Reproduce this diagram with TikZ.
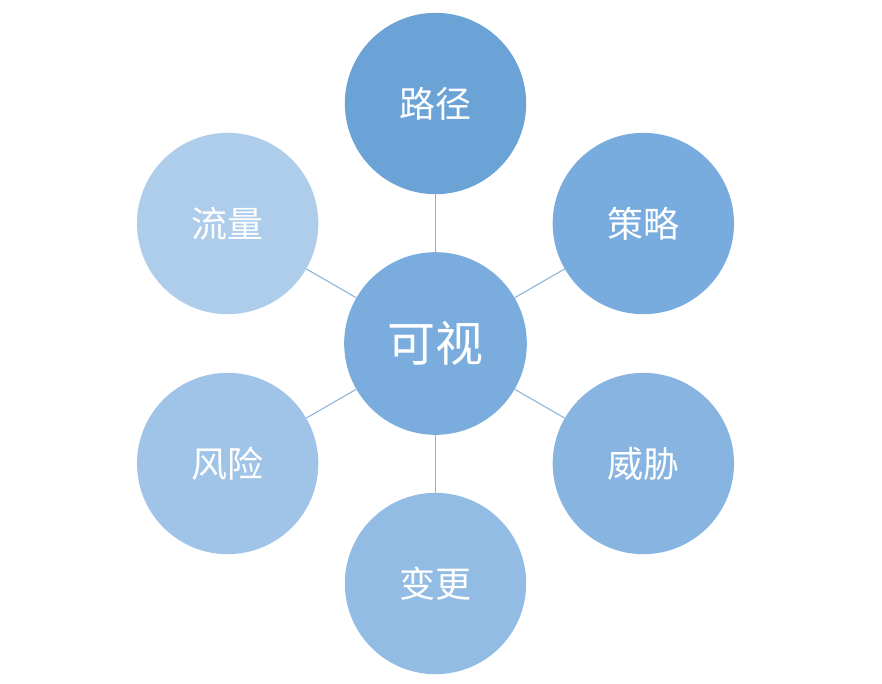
\documentclass[tikz,border=0pt]{standalone}
\usepackage{fontspec}
\usepackage{xcolor}
\usepackage{tikz}
\usetikzlibrary{calc}
\newfontfamily\cjk{Noto Sans CJK SC}
\definecolor{hubblue}{HTML}{7AADDD}
\definecolor{spokeline}{HTML}{8DB3D6}
\definecolor{leafa}{HTML}{6BA3D7}
\definecolor{leafb}{HTML}{78ACDE}
\definecolor{leafc}{HTML}{87B4E0}
\definecolor{leafd}{HTML}{93BCE4}
\definecolor{leafe}{HTML}{A0C4E7}
\definecolor{leaff}{HTML}{ADCDEB}
\tikzset{
  hub/.style={circle,fill=hubblue,minimum size=137pt,inner sep=0pt,
    text=white,font=\cjk\fontsize{36pt}{40pt}\selectfont},
  leaf/.style={circle,minimum size=136pt,inner sep=0pt,
    text=white,font=\cjk\fontsize{27pt}{30pt}\selectfont},
  spoke/.style={draw=spokeline,line width=0.8pt}
}
\begin{document}
\begin{tikzpicture}[x=0.75pt,y=-0.75pt]
  \useasboundingbox (0,0) rectangle (882,683);
  \node[hub] (hub) at (435.5,343.5) {可视};
  % y runs downwards, so -90 is the top
  \foreach \ang/\lbl/\col [count=\i] in
    {-90/路径/leafa, -30/策略/leafb, 30/威胁/leafc,
     90/变更/leafd, 150/风险/leafe, 210/流量/leaff} {
    \node[leaf,fill=\col] (leaf\i) at ($(hub)+(\ang:240)$) {\lbl};
    \draw[spoke] (hub)--(leaf\i);
  }
\end{tikzpicture}
\end{document}
